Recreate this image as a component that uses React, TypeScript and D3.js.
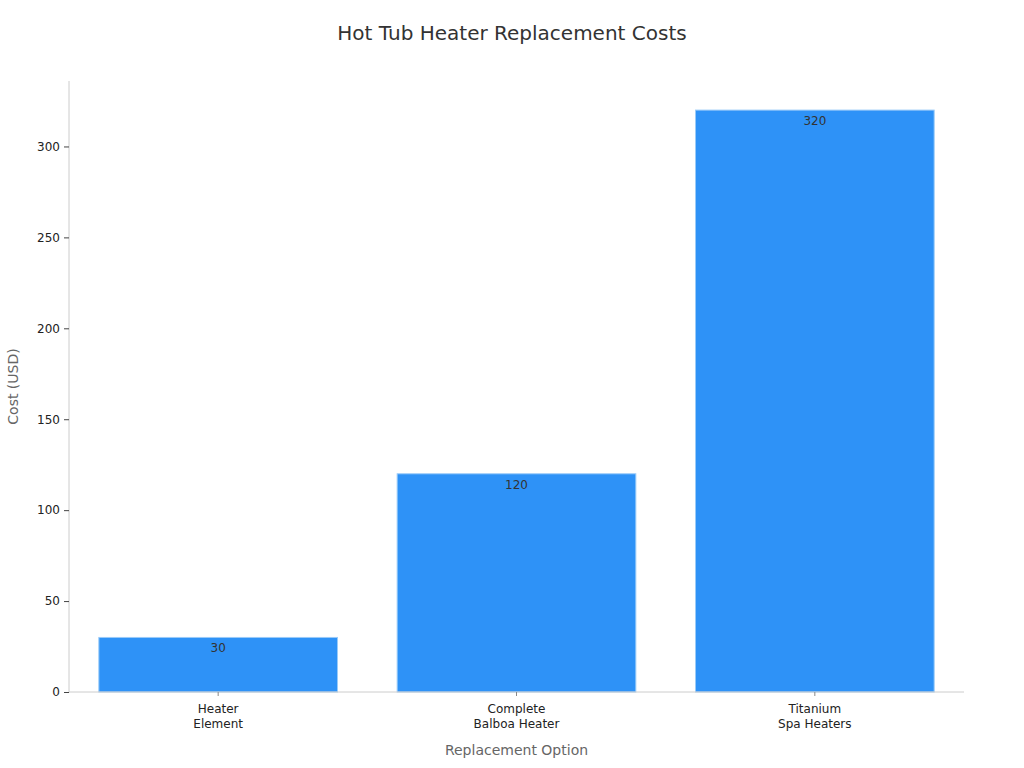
import React, { useEffect, useRef } from 'react';
import * as d3 from 'd3';

const categories = ['Heater\nElement', 'Complete\nBalboa Heater', 'Titanium\nSpa Heaters'];
const costs = [30, 120, 320];
const yTicks = [0, 50, 100, 150, 200, 250, 300];

const width = 1024;
const height = 768;

export default function App() {
  const svgRef = useRef<SVGSVGElement>(null);

  useEffect(() => {
    if (!svgRef.current) return;
    const svg = d3.select(svgRef.current);
    svg.selectAll('*').remove();

    const margin = { top: 81, right: 60, bottom: 76, left: 69 };
    const innerWidth = width - margin.left - margin.right;
    const innerHeight = height - margin.top - margin.bottom;
    const font = '"DejaVu Sans", sans-serif';

    const g = svg.append('g').attr('transform', `translate(${margin.left},${margin.top})`);

    const x = d3
      .scaleBand()
      .domain(categories)
      .range([0, innerWidth])
      .paddingInner(0.2)
      .paddingOuter(0.1);

    const y = d3
      .scaleLinear()
      .domain([0, d3.max(costs)! * 1.05])
      .range([innerHeight, 0]);

    // Title
    svg
      .append('text')
      .attr('x', width / 2)
      .attr('y', 40)
      .attr('text-anchor', 'middle')
      .style('font-family', font)
      .style('font-size', '20px')
      .style('fill', '#333')
      .text('Hot Tub Heater Replacement Costs');

    // Bars
    g.selectAll('.bar')
      .data(costs)
      .enter()
      .append('rect')
      .attr('class', 'bar')
      .attr('x', (_, i) => x(categories[i])!)
      .attr('y', d => y(d))
      .attr('width', x.bandwidth())
      .attr('height', d => innerHeight - y(d))
      .attr('fill', '#2E92F7')
      .attr('stroke', '#9ACBF8')
      .attr('stroke-width', 1);

    // Value labels
    g.selectAll('.val')
      .data(costs)
      .enter()
      .append('text')
      .attr('x', (_, i) => x(categories[i])! + x.bandwidth() / 2)
      .attr('y', d => y(d) + 15)
      .attr('text-anchor', 'middle')
      .style('font-family', font)
      .style('font-size', '12px')
      .style('fill', '#333')
      .text(d => d);

    // Y axis
    const yAxis = g.append('g').call(d3.axisLeft(y).tickValues(yTicks).tickSize(5).tickPadding(4));
    yAxis.select('.domain').attr('stroke', '#ccc').attr('d', `M0,0V${innerHeight}`);
    yAxis.selectAll('.tick line').attr('stroke', '#444');
    yAxis.selectAll('text').style('font-family', font).style('font-size', '12px').style('fill', '#222');

    // X axis
    const xAxis = g
      .append('g')
      .attr('transform', `translate(0,${innerHeight})`)
      .call(d3.axisBottom(x).tickSize(4).tickFormat(() => ''));
    xAxis.select('.domain').attr('stroke', '#ccc').attr('d', `M0,0H${innerWidth}`);
    xAxis.selectAll('.tick line').attr('stroke', '#888');
    xAxis.selectAll('.tick').each(function (d) {
      const lines = String(d).split('\n');
      const t = d3
        .select(this)
        .append('text')
        .attr('text-anchor', 'middle')
        .style('font-family', font)
        .style('font-size', '12px')
        .style('fill', '#222');
      lines.forEach((line, i) => {
        t.append('tspan').attr('x', 0).attr('y', 21 + i * 15).text(line);
      });
    });

    // Axis titles
    svg
      .append('text')
      .attr('x', margin.left + innerWidth / 2)
      .attr('y', 755)
      .attr('text-anchor', 'middle')
      .style('font-family', font)
      .style('font-size', '14px')
      .style('fill', '#666')
      .text('Replacement Option');

    svg
      .append('text')
      .attr('transform', `translate(18,${margin.top + innerHeight / 2}) rotate(-90)`)
      .attr('text-anchor', 'middle')
      .style('font-family', font)
      .style('font-size', '14px')
      .style('fill', '#666')
      .text('Cost (USD)');
  }, []);

  return (
    <svg
      ref={svgRef}
      width={width}
      height={height}
      style={{ position: 'absolute', left: 0, top: 0, background: '#fff' }}
    />
  );
}
